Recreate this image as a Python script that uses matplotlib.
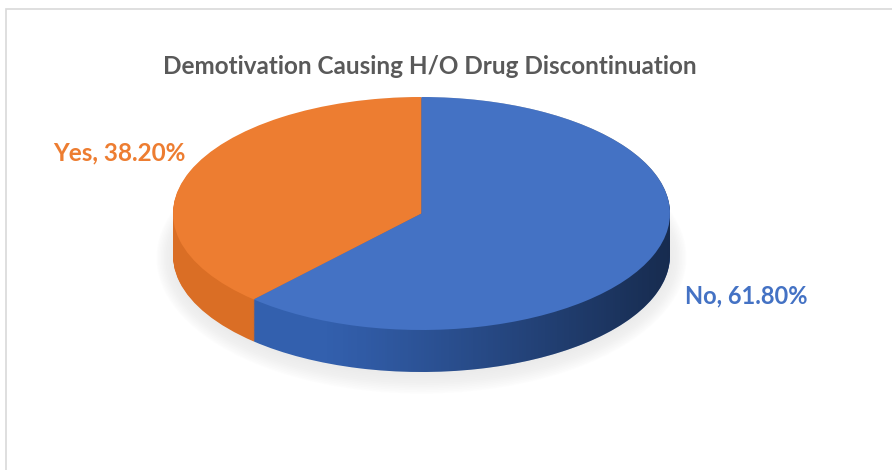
import numpy as np
import matplotlib.pyplot as plt
from matplotlib.patches import Rectangle, Polygon, Ellipse

labels = ['Yes', 'No']
values = [38.20, 61.80]
colors = ['#ED7D31', '#4472C4']
side_colors = ['#DA6E25', '#3360AE']

plt.rcParams['font.family'] = ['Lato', 'DejaVu Sans']

W, H = 892, 470
fig = plt.figure(figsize=(W / 100, H / 100), dpi=100)
ax = fig.add_axes([0, 0, 1, 1])

# pie is drawn as a squashed ellipse: 1 x-unit = rx px, 1 y-unit = ry px
cx, cy, rx, ry = 421.5, 213.5, 248.5, 116.5
depth = 42 / ry

# soft shadow below the pie
for i in range(12):
    ax.add_patch(Ellipse((0.0, -depth - 0.02), 2.0 + 0.012 * i, 2.0 + 0.03 * i,
                         color='#e6e6e6', alpha=0.09, zorder=0, lw=0))

# side of the pie: a stack of pies shifted down
n_layers = 50
for k in range(n_layers, 0, -1):
    ax.pie(values, colors=side_colors, startangle=90, counterclock=True,
           center=(0, -depth * k / n_layers), radius=1,
           wedgeprops=dict(linewidth=0, zorder=1), frame=True)

# horizontal shading on the side (darker to the right)
t = np.linspace(0, np.pi, 200)
outline = np.concatenate([
    np.column_stack([np.cos(t), np.sin(t)]),
    np.column_stack([np.cos(t + np.pi), np.sin(t + np.pi) - depth]),
])
clip = Polygon(outline, closed=True, transform=ax.transData, fc='none', ec='none')
ax.add_patch(clip)
grad = np.linspace(0, 1, 256)
rgba = np.zeros((1, 256, 4))
rgba[..., 3] = np.clip((grad - 0.3) / 0.7, 0, 1) ** 1.1 * 0.55
img = ax.imshow(rgba, extent=(-1, 1, -1 - depth, 1), aspect='auto', zorder=2,
                interpolation='bilinear')
img.set_clip_path(clip)

# top face
ax.pie(values, colors=colors, startangle=90, counterclock=True,
       center=(0, 0), radius=1, wedgeprops=dict(linewidth=0, zorder=3), frame=True)
ax.set_xlim(-cx / rx, (W - cx) / rx)
ax.set_ylim((cy - H) / ry, cy / ry)
ax.set_aspect('auto')
ax.axis('off')

fig.text(430 / W, 1 - 66 / H, 'Demotivation Causing H/O Drug Discontinuation',
         ha='center', va='center', fontsize=17.5, fontweight='bold', color='#595959')
fig.text(53 / W, 1 - 153 / H, f'{labels[0]}, {values[0]:.2f}%', ha='left', va='center',
         fontsize=17.5, fontweight='bold', color=colors[0])
fig.text(685 / W, 1 - 296 / H, f'{labels[1]}, {values[1]:.2f}%', ha='left', va='center',
         fontsize=17, fontweight='bold', color=colors[1])

# chart border (only top and left visible)
fig.add_artist(Rectangle((5.5 / W, -0.1), 1.2, 1 - 8.5 / H + 0.1,
                         transform=fig.transFigure, fill=False, ec='#d9d9d9', lw=1.2))

fig.savefig('out.png', dpi=100)
